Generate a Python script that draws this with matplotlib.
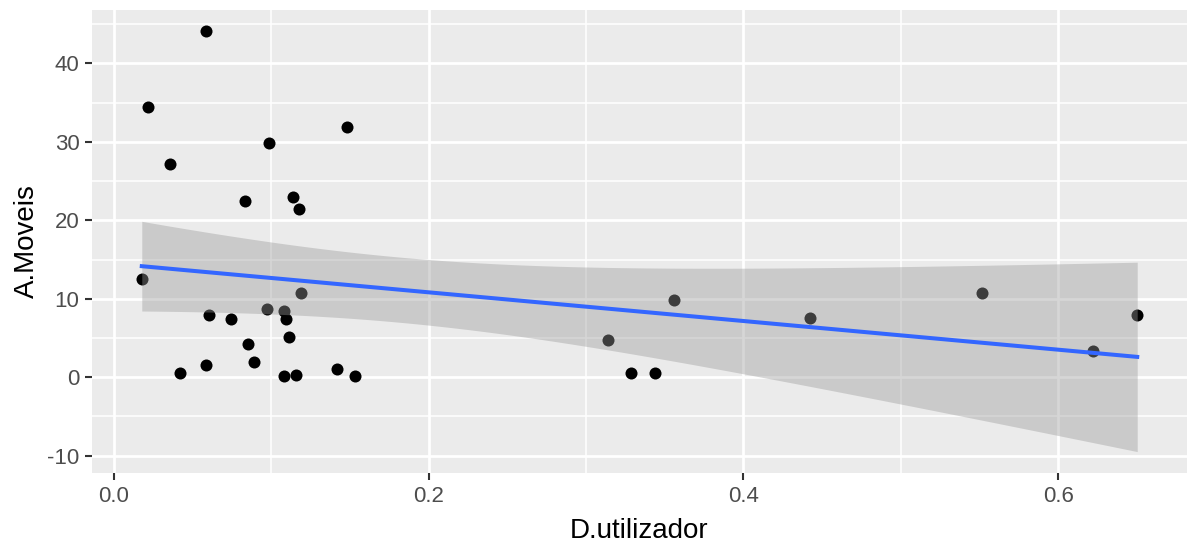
import numpy as np
import matplotlib
matplotlib.use("Agg")
import matplotlib.pyplot as plt

# D.utilizador vs A.Moveis
d_utilizador = [0.0178, 0.0217, 0.0357, 0.0420, 0.0585, 0.0585, 0.0604, 0.0744,
                0.0832, 0.0852, 0.0890, 0.0973, 0.0986, 0.1081, 0.1081, 0.1094,
                0.1113, 0.1138, 0.1157, 0.1175, 0.1189, 0.1418, 0.1481, 0.1532,
                0.3141, 0.3287, 0.3440, 0.3560, 0.4424, 0.5518, 0.6223, 0.6501]
a_moveis = [12.5, 34.4, 27.2, 0.6, 44.1, 1.6, 7.9, 7.4,
            22.5, 4.3, 2.0, 8.7, 29.9, 8.5, 0.1, 7.4,
            5.1, 23.0, 0.25, 21.5, 10.7, 1.1, 31.9, 0.1,
            4.7, 0.5, 0.5, 9.9, 7.5, 10.7, 3.3, 7.9]

x = np.array(d_utilizador)
y = np.array(a_moveis)
n = len(x)

# linear fit with 95% confidence band (like geom_smooth(method="lm"))
slope, intercept = np.polyfit(x, y, 1)
resid = y - (slope * x + intercept)
s = np.sqrt(np.sum(resid ** 2) / (n - 2))
t_crit = 2.042  # t(0.975, df=30)
xs = np.linspace(x.min(), x.max(), 80)
ys = slope * xs + intercept
se = s * np.sqrt(1.0 / n + (xs - x.mean()) ** 2 / np.sum((x - x.mean()) ** 2))
lo = ys - t_crit * se
hi = ys + t_crit * se

plt.rcParams['font.family'] = ['Liberation Sans', 'DejaVu Sans']
plt.rcParams['axes.unicode_minus'] = False

fig = plt.figure(figsize=(11.96, 5.58), dpi=100)
ax = fig.add_axes([92 / 1196, 1 - 473 / 558, (1187 - 92) / 1196, (473 - 10) / 558])
ax.set_facecolor('#EBEBEB')

ax.scatter(x, y, s=75, color='black', linewidths=0, zorder=2)
ax.fill_between(xs, lo, hi, color='#999999', alpha=0.4, linewidth=0, zorder=3)
ax.plot(xs, ys, color='#3366FF', linewidth=2.9, zorder=4)

# ggplot-style 5% expansion
xr = x.max() - x.min()
ax.set_xlim(x.min() - 0.05 * xr, x.max() + 0.05 * xr)
ax.set_ylim(-12.2, 46.8)
ax.set_xticks([0.0, 0.2, 0.4, 0.6])
ax.set_xticklabels(['0.0', '0.2', '0.4', '0.6'])
ax.set_yticks([-10, 0, 10, 20, 30, 40])
ax.set_xticks([0.1, 0.3, 0.5], minor=True)
ax.set_yticks([-5, 5, 15, 25, 35, 45], minor=True)

ax.grid(which='major', color='white', linewidth=2.0, zorder=0)
ax.grid(which='minor', color='white', linewidth=1.1, zorder=0)
ax.set_axisbelow(True)
for sp in ax.spines.values():
    sp.set_visible(False)

ax.tick_params(which='major', length=5, width=1.5, color='#333333',
               labelsize=16, labelcolor='#4D4D4D', pad=4)
ax.tick_params(which='minor', length=0)

ax.set_xlabel('D.utilizador', fontsize=20, color='black', labelpad=8)
ax.set_ylabel('A.Moveis', fontsize=20, color='black', labelpad=5)

fig.savefig('out.png', dpi=100)
